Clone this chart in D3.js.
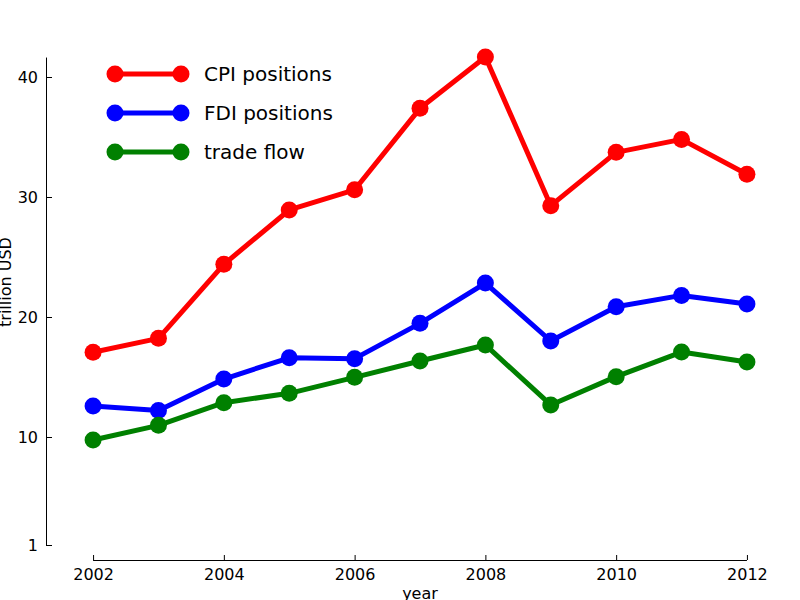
<!DOCTYPE html>
<html>
<head>
<meta charset="utf-8">
<script src="https://cdn.jsdelivr.net/npm/d3@7"></script>
<style>
  body { margin: 0; background: #fff; }
  text { font-family: "DejaVu Sans", sans-serif; }
</style>
</head>
<body>
<div id="chart"></div>
<script>
var w = 800,
    h = 600;

var years = [2002, 2003, 2004, 2005, 2006, 2007, 2008, 2009, 2010, 2011, 2012];
var cpiPositions = [17.06, 18.22, 24.39, 28.92, 30.6, 37.39, 41.67, 29.28, 33.72, 34.8, 31.89];
var fdiPositions = [12.58, 12.2, 14.83, 16.6, 16.53, 19.47, 22.83, 18.0, 20.86, 21.8, 21.08];
var tradeFlow = [9.75, 10.97, 12.86, 13.64, 14.97, 16.33, 17.67, 12.67, 15.03, 17.08, 16.25];
var xTicks = [2002, 2004, 2006, 2008, 2010, 2012];
var yTicks = [1, 10, 20, 30, 40];
var seriesNames = ["CPI positions", "FDI positions", "trade flow"];
var seriesColors = ["#ff0000", "#0000ff", "#008000"];

var series = [cpiPositions, fdiPositions, tradeFlow].map(function(vals, i) {
  return {
    name: seriesNames[i],
    color: seriesColors[i],
    points: years.map(function(y, j) { return { year: y, value: vals[j] }; })
  };
});

var x = d3.scaleLinear().domain([2001.28, 2012.72]).range([46, 794]);
var y = d3.scaleLinear().domain([0, 40]).range([557, 77]);

var svg = d3.select("#chart").append("svg")
    .attr("width", w)
    .attr("height", h);

// x axis, spine trimmed to first/last tick
var xAxis = svg.append("g")
    .attr("transform", "translate(0,560)")
    .call(d3.axisBottom(x).tickValues(xTicks).tickFormat(d3.format("d"))
      .tickSizeInner(-5).tickSizeOuter(0).tickPadding(9));
xAxis.select(".domain").remove();
xAxis.selectAll("text").attr("font-size", 16).attr("fill", "#000")
    .attr("font-family", "DejaVu Sans, sans-serif");
xAxis.selectAll("line").attr("stroke", "#000");
svg.append("line")
    .attr("x1", x(2002)).attr("x2", x(2012))
    .attr("y1", 560.5).attr("y2", 560.5)
    .attr("stroke", "#000");

// y axis
var yAxis = svg.append("g")
    .attr("transform", "translate(46,0)")
    .call(d3.axisLeft(y).tickValues(yTicks).tickFormat(d3.format("d"))
      .tickSizeInner(-6).tickSizeOuter(0).tickPadding(8));
yAxis.select(".domain").remove();
yAxis.selectAll("text").attr("font-size", 16).attr("fill", "#000")
    .attr("font-family", "DejaVu Sans, sans-serif");
yAxis.selectAll("line").attr("stroke", "#000");
svg.append("line")
    .attr("x1", 46.5).attr("x2", 46.5)
    .attr("y1", y(1)).attr("y2", y(41.62))
    .attr("stroke", "#000");

svg.append("text")
    .attr("x", 420).attr("y", 599)
    .attr("text-anchor", "middle")
    .attr("font-size", 16)
    .text("year");

svg.append("text")
    .attr("transform", "translate(11,282) rotate(-90)")
    .attr("text-anchor", "middle")
    .attr("font-size", 16)
    .text("trillion USD");

var line = d3.line()
    .x(function(d) { return x(d.year); })
    .y(function(d) { return y(d.value); });

var groups = svg.selectAll("g.series").data(series).enter().append("g")
    .attr("class", "series");

groups.append("path")
    .attr("d", function(d) { return line(d.points); })
    .attr("fill", "none")
    .attr("stroke", function(d) { return d.color; })
    .attr("stroke-width", 5)
    .attr("stroke-linejoin", "round");

groups.selectAll("circle").data(function(d) {
      return d.points.map(function(p) { return { p: p, color: d.color }; });
    }).enter().append("circle")
    .attr("cx", function(d) { return x(d.p.year); })
    .attr("cy", function(d) { return y(d.p.value); })
    .attr("r", 8.5)
    .attr("fill", function(d) { return d.color; });

// legend
var legend = svg.selectAll("g.legend").data(series).enter().append("g")
    .attr("class", "legend")
    .attr("transform", function(d, i) { return "translate(0," + (74 + i * 39) + ")"; });

legend.append("line")
    .attr("x1", 115).attr("x2", 181)
    .attr("stroke", function(d) { return d.color; })
    .attr("stroke-width", 5);
legend.selectAll("circle").data(function(d) { return [d, d]; }).enter().append("circle")
    .attr("cx", function(d, i) { return i ? 181 : 115; })
    .attr("r", 8.5)
    .attr("fill", function(d) { return d.color; });
legend.append("text")
    .attr("x", 204).attr("dy", "0.35em")
    .attr("font-size", 20)
    .text(function(d) { return d.name; });
</script>
</body>
</html>
